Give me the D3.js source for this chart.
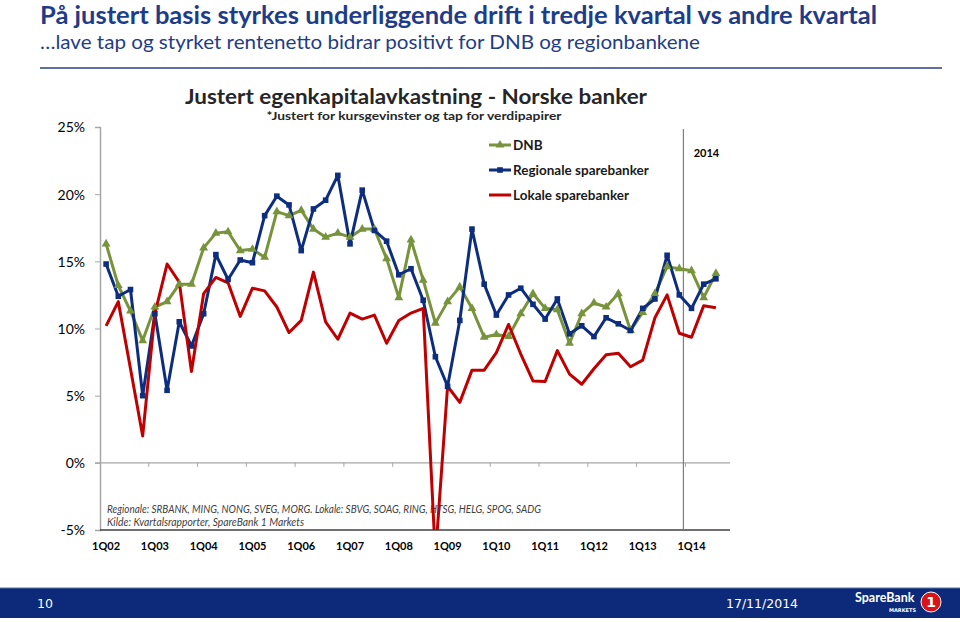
<!DOCTYPE html>
<html><head><meta charset="utf-8">
<script src="https://cdn.jsdelivr.net/npm/d3@7/dist/d3.min.js"></script>
<style>body{margin:0;background:#fff;overflow:hidden}svg{display:block}</style>
</head><body>
<svg id="chart" width="960" height="622"></svg>
<script>
// ---------- data ----------
const quarters = ["1Q02","2Q02","3Q02","4Q02","1Q03","2Q03","3Q03","4Q03","1Q04","2Q04","3Q04","4Q04",
"1Q05","2Q05","3Q05","4Q05","1Q06","2Q06","3Q06","4Q06","1Q07","2Q07","3Q07","4Q07",
"1Q08","2Q08","3Q08","4Q08","1Q09","2Q09","3Q09","4Q09","1Q10","2Q10","3Q10","4Q10",
"1Q11","2Q11","3Q11","4Q11","1Q12","2Q12","3Q12","4Q12","1Q13","2Q13","3Q13","4Q13",
"1Q14","2Q14","3Q14"];
const tickLabels = ["1Q02","1Q03","1Q04","1Q05","1Q06","1Q07","1Q08","1Q09","1Q10","1Q11","1Q12","1Q13","1Q14"];
const yTicks = [-5,0,5,10,15,20,25];
const dnb = [16.3,13.2,11.3,9.1,11.6,12.0,13.3,13.3,16.0,17.1,
 17.2,15.8,15.9,15.3,18.7,18.4,18.8,17.4,16.8,17.1,
 16.8,17.4,17.4,15.2,12.3,16.6,13.6,10.4,12.0,13.1,
 11.5,9.35,9.55,9.4,11.1,12.6,11.5,11.4,8.9,11.1,
 11.9,11.6,12.6,9.85,11.2,12.6,14.6,14.45,14.3,12.3,
 14.1];
const regional = [14.8,12.4,12.9,5.0,11.1,5.4,10.5,8.7,11.1,15.5,
 13.65,15.1,14.9,18.4,19.85,19.2,15.8,18.9,19.55,21.4,
 16.3,20.3,17.3,16.5,14.0,14.45,12.1,7.9,5.7,10.6,
 17.4,13.3,11.0,12.5,13.0,11.8,10.7,12.2,9.6,10.2,
 9.4,10.8,10.35,9.85,11.5,12.2,15.45,12.5,11.5,13.3,
 13.7];
const local = [10.2,12.0,7.0,2.0,11.1,14.8,13.45,6.8,12.6,13.8,
 13.4,10.9,13.0,12.8,11.6,9.7,10.6,14.2,10.5,9.2,
 11.15,10.7,11.0,8.9,10.6,11.15,11.5,-7.0,5.7,4.5,
 6.9,6.9,8.2,10.3,8.1,6.1,6.05,8.35,6.6,5.85,
 7.0,8.05,8.15,7.15,7.65,10.8,12.5,9.65,9.35,11.7,
 11.55];
const seriesNames = ["DNB","Regionale sparebanker","Lokale sparebanker"];
const seriesColors = ["#77933c","#0d2d7e","#c00000"];
const markerYearLabel = "2014";
const markerQuarter = "1Q14";

// ---------- layout ----------
const svg = d3.select("#chart");
const L = 100, R = 722, T = 127, B = 530;
const x = d3.scaleBand().domain(quarters).range([L, R]).padding(0);
const cx = q => x(q) + x.bandwidth()/2;
const y = d3.scaleLinear().domain([-5, 25]).range([B, T]);

const slideFont = "'Liberation Sans Narrow','Arial Narrow','Lato',sans-serif";
const chartFont = "Lato, 'Open Sans', sans-serif";

// slide header
svg.append("text").attr("x",40).attr("y",24).attr("font-family",slideFont).attr("font-weight","bold")
  .attr("font-size",24).attr("fill","#1f3c88").attr("textLength",837).attr("lengthAdjust","spacingAndGlyphs")
  .text("På justert basis styrkes underliggende drift i tredje kvartal vs andre kvartal");
svg.append("text").attr("x",40).attr("y",49).attr("font-family",slideFont)
  .attr("font-size",20).attr("fill","#1f3c88").attr("textLength",660).attr("lengthAdjust","spacingAndGlyphs")
  .text("…lave tap og styrket rentenetto bidrar positivt for DNB og regionbankene");
svg.append("line").attr("x1",40).attr("x2",942).attr("y1",68).attr("y2",68)
  .attr("stroke","#2a3f86").attr("stroke-width",1.6);

// chart titles
svg.append("text").attr("x",416).attr("y",104).attr("text-anchor","middle").attr("font-family",chartFont)
  .attr("font-weight","bold").attr("font-size",21).attr("fill","#262626")
  .attr("textLength",462).attr("lengthAdjust","spacingAndGlyphs")
  .text("Justert egenkapitalavkastning - Norske banker");
svg.append("text").attr("x",414).attr("y",120).attr("text-anchor","middle").attr("font-family",chartFont)
  .attr("font-weight","bold").attr("font-size",11).attr("fill","#262626")
  .attr("textLength",295).attr("lengthAdjust","spacingAndGlyphs")
  .text("*Justert for kursgevinster og tap for verdipapirer");

// y axis
const yAxis = d3.axisLeft(y).tickValues(yTicks).tickSize(5).tickFormat(d => d + "%");
const gy = svg.append("g").attr("transform",`translate(${L},0)`).call(yAxis);
gy.select(".domain").attr("stroke","#a6a6a6").attr("stroke-width",1.5);
gy.selectAll(".tick line").attr("stroke","#a6a6a6");
gy.selectAll(".tick text").attr("font-family",chartFont).attr("font-size",14).attr("fill","#000").attr("x",-15).attr("dy","0.35em");

// zero line
svg.append("line").attr("x1",L-5).attr("x2",R+8).attr("y1",y(0)).attr("y2",y(0))
  .attr("stroke","#a6a6a6").attr("stroke-width",1.3);
// bottom line at -5%
svg.append("line").attr("x1",L).attr("x2",R+8).attr("y1",B).attr("y2",B)
  .attr("stroke","#404040").attr("stroke-width",1.3);

// category ticks on zero line (every 4 quarters, at boundaries)
const tickIdx = d3.range(4, quarters.length, 4);
svg.append("g").selectAll("line").data(tickIdx).join("line")
  .attr("x1", i => x(quarters[i])).attr("x2", i => x(quarters[i]))
  .attr("y1", y(0)).attr("y2", y(0)+4).attr("stroke","#a6a6a6");

// category labels (low position)
const xAxis = d3.axisBottom(x).tickValues(tickLabels).tickSize(0).tickPadding(12);
const gx = svg.append("g").attr("transform",`translate(0,${B})`).call(xAxis);
gx.select(".domain").remove();
gx.selectAll(".tick text").attr("font-family",chartFont).attr("font-weight","bold").attr("font-size",11).attr("fill","#000");

// 2014 separator
svg.append("line").attr("x1", x(markerQuarter)-2).attr("x2", x(markerQuarter)-2).attr("y1",129).attr("y2",B-1)
  .attr("stroke","#7f7f7f").attr("stroke-width",1.2);
svg.append("text").attr("x", x(markerQuarter)+21).attr("y",157).attr("text-anchor","middle")
  .attr("font-family",chartFont).attr("font-weight","bold").attr("font-size",11).text(markerYearLabel);

// note text
svg.append("text").attr("x",107).attr("y",513).attr("font-family",chartFont).attr("font-style","italic")
  .attr("font-size",10.5).attr("fill","#404040").attr("textLength",434).attr("lengthAdjust","spacingAndGlyphs")
  .text("Regionale: SRBANK, MING, NONG, SVEG, MORG. Lokale: SBVG, SOAG, RING, HTSG, HELG, SPOG, SADG");
svg.append("text").attr("x",107).attr("y",526).attr("font-family",chartFont).attr("font-style","italic")
  .attr("font-size",10.5).attr("fill","#404040").attr("textLength",197).attr("lengthAdjust","spacingAndGlyphs")
  .text("Kilde: Kvartalsrapporter, SpareBank 1 Markets");

// clip
svg.append("clipPath").attr("id","plotclip").append("rect").attr("x",L).attr("y",T-10).attr("width",R-L+10).attr("height",B-T+10);

const line = d3.line().x((d,i) => cx(quarters[i])).y(d => y(d));
const plot = svg.append("g").attr("clip-path","url(#plotclip)");
const allSeries = [dnb, regional, local];
allSeries.forEach((s, k) => {
  plot.append("path").datum(s).attr("d", line).attr("fill","none")
    .attr("stroke", seriesColors[k]).attr("stroke-width",3).attr("stroke-linejoin","round");
});
const tri = d3.symbol().type(d3.symbolTriangle).size(34);
plot.append("g").selectAll("path").data(dnb).join("path")
  .attr("d", tri).attr("transform",(d,i)=>`translate(${cx(quarters[i])},${y(d)})`).attr("fill",seriesColors[0]);
plot.append("g").selectAll("rect").data(regional).join("rect")
  .attr("x",(d,i)=>cx(quarters[i])-2.8).attr("y",d=>y(d)-2.8).attr("width",5.6).attr("height",5.6).attr("fill",seriesColors[1]);

// legend
const lg = svg.append("g");
const legY = [145, 170, 195];
seriesNames.forEach((n,k) => {
  lg.append("line").attr("x1",489).attr("x2",511).attr("y1",legY[k]).attr("y2",legY[k])
    .attr("stroke",seriesColors[k]).attr("stroke-width",3);
  if (k===0) lg.append("path").attr("d",tri).attr("transform",`translate(500,${legY[k]})`).attr("fill",seriesColors[0]);
  if (k===1) lg.append("rect").attr("x",497.2).attr("y",legY[k]-2.8).attr("width",5.6).attr("height",5.6).attr("fill",seriesColors[1]);
  lg.append("text").attr("x",513).attr("y",legY[k]).attr("dy","0.35em").attr("font-family",chartFont)
    .attr("font-weight","bold").attr("font-size",13.5).attr("fill","#1a1a1a").text(n);
});

// footer
svg.append("rect").attr("x",0).attr("y",588).attr("width",960).attr("height",30).attr("fill","#0c2a79");
svg.append("line").attr("x1",0).attr("x2",960).attr("y1",588).attr("y2",588).attr("stroke","#5a6ea8").attr("stroke-width",1);
svg.append("text").attr("x",37).attr("y",608).attr("font-family","'DejaVu Sans',sans-serif").attr("font-size",12.5).attr("fill","#fff").text("10");
svg.append("text").attr("x",726).attr("y",608).attr("font-family","'DejaVu Sans',sans-serif").attr("font-size",12.5).attr("fill","#fff").text("17/11/2014");
svg.append("text").attr("x",855).attr("y",602).attr("font-family","Lato, sans-serif").attr("font-weight","bold")
  .attr("font-size",12.5).attr("fill","#fff").text("SpareBank");
svg.append("text").attr("x",916).attr("y",612).attr("text-anchor","end").attr("font-family","'DejaVu Sans',sans-serif").attr("font-weight","bold")
  .attr("font-size",5).attr("fill","#fff").text("MARKETS");
svg.append("circle").attr("cx",931).attr("cy",602).attr("r",10).attr("fill","#d7141a").attr("stroke","#fff").attr("stroke-width",1);
svg.append("text").attr("x",931).attr("y",607).attr("text-anchor","middle").attr("font-family","'DejaVu Sans',sans-serif")
  .attr("font-weight","bold").attr("font-size",14).attr("fill","#fff").text("1");
</script>
</body></html>
